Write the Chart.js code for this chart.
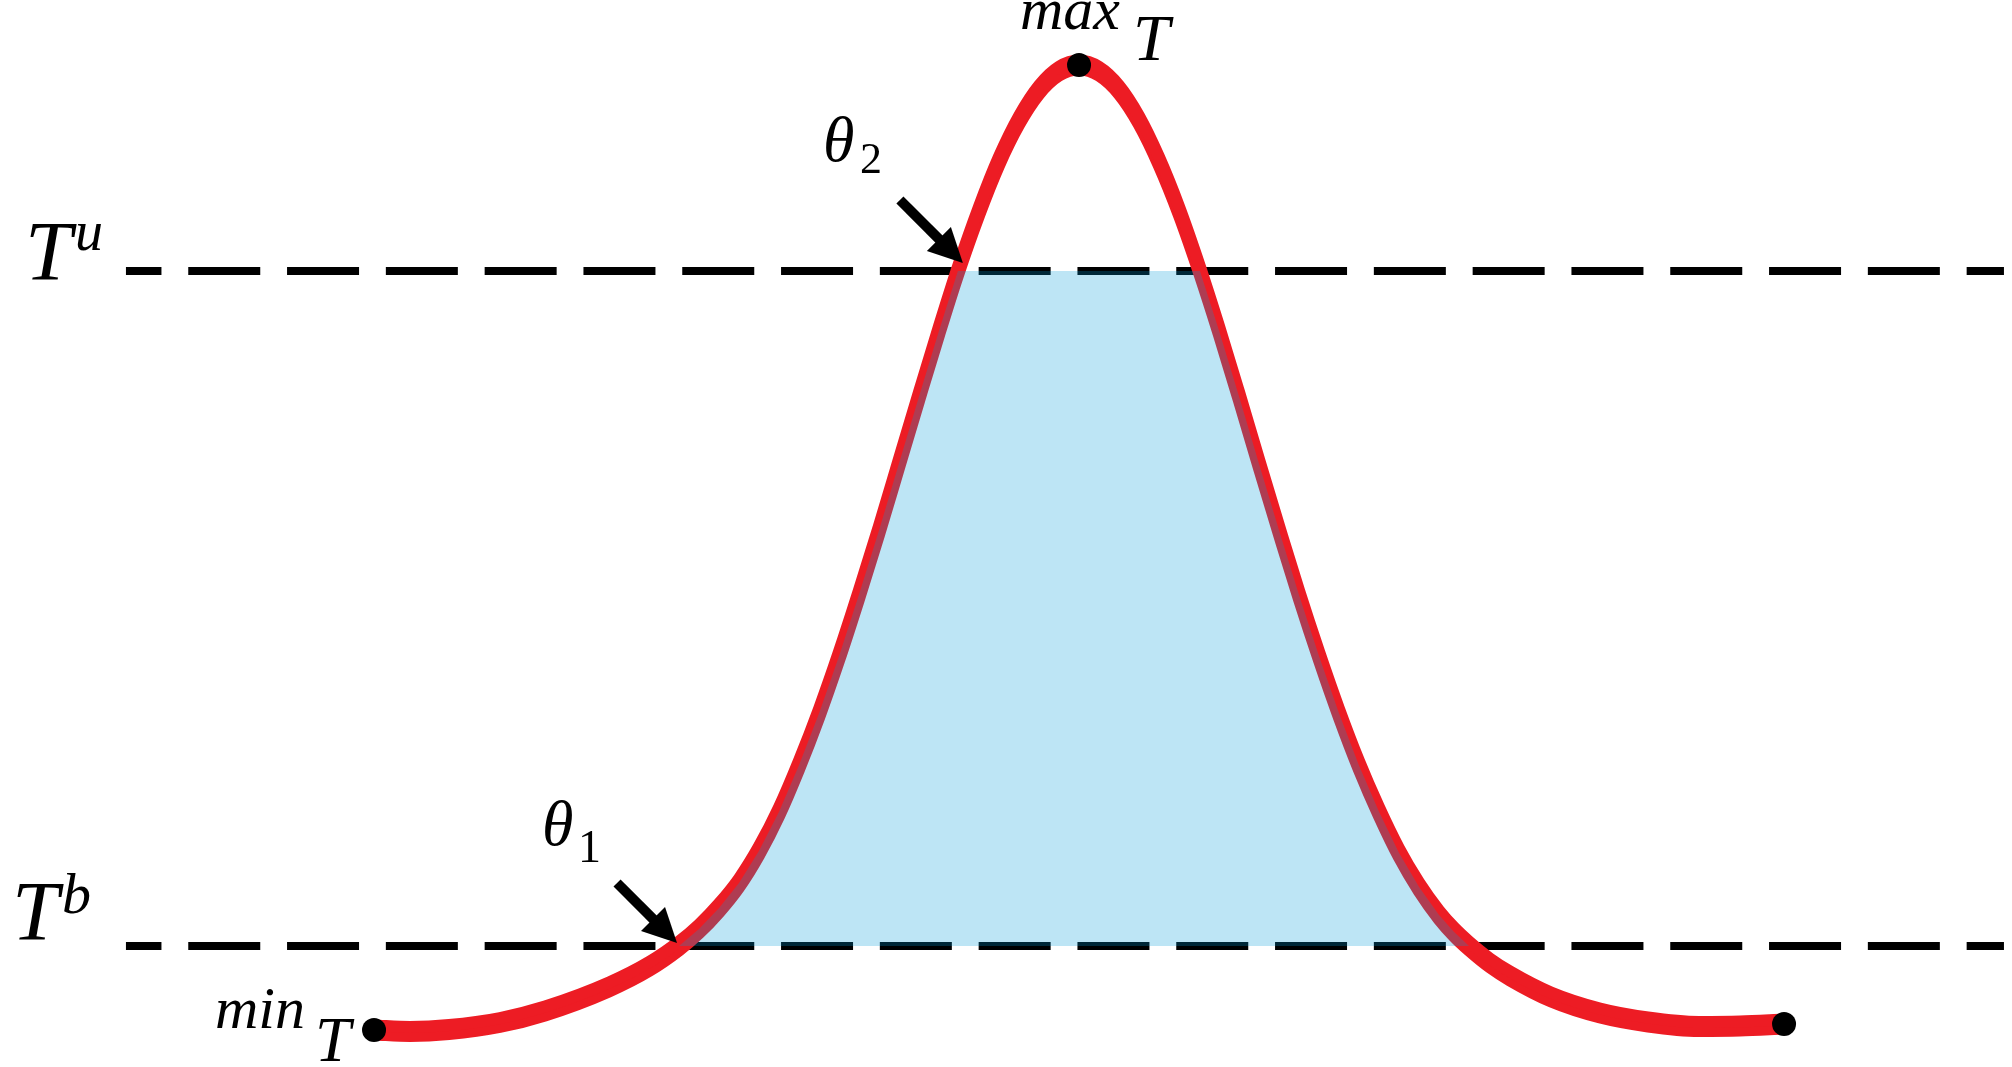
<!DOCTYPE html>
<html>
<head>
<meta charset="utf-8">
<title>Temperature window</title>
<script src="https://cdn.jsdelivr.net/npm/chart.js@4.4.1/dist/chart.umd.min.js"></script>
<style>
  html, body { margin: 0; padding: 0; background: #fff; }
  #wrap { width: 2012px; height: 1067px; }
</style>
</head>
<body>
<div id="wrap"><canvas id="tempChart" width="2012" height="1067"></canvas></div>
<script>
// curve (x: 0-100 across, y: 0-100 up)
const curveX = [18.59, 20.38, 22.32, 24.85, 27.09, 30.27, 32.31, 33.75, 34.74, 35.74, 36.73, 37.72,
  38.72, 39.71, 40.71, 41.70, 42.69, 43.69, 44.68, 45.68, 46.67, 47.61, 48.66, 49.65, 50.65, 51.64,
  52.63, 53.63, 54.62, 55.62, 56.61, 57.60, 58.60, 59.64, 60.59, 61.58, 62.57, 63.57, 64.56, 65.56,
  66.55, 67.54, 68.54, 69.53, 70.53, 71.52, 72.27, 73.01, 74.05, 75.05, 77.09, 79.52, 81.91, 84.44,
  86.48, 88.67];
const curveY = [3.47, 3.33, 3.51, 4.17, 5.25, 7.50, 9.47, 11.34, 12.93, 14.90, 17.24, 20.24,
  23.92, 28.28, 33.16, 38.50, 44.25, 50.31, 56.56, 62.86, 69.01, 74.60, 80.22, 84.89, 88.72, 91.57,
  93.32, 93.91, 93.32, 91.57, 88.72, 84.89, 80.22, 74.60, 69.01, 62.86, 56.56, 50.31, 44.25, 38.50,
  33.16, 28.28, 23.92, 20.08, 16.87, 14.25, 12.65, 11.34, 9.75, 8.53, 6.56, 5.06, 4.22, 3.80,
  3.84, 4.03];

// threshold levels
const T_B = 11.34;
const T_U = 74.60;
const lineX = [6.26, 99.6];

const curve = curveX.map((x, i) => ({ x, y: curveY[i] }));

// shaded band: part of the curve above T_B, cut at T_U
const band = curve.filter(p => p.y >= T_B).map(p => ({ x: p.x, y: Math.min(p.y, T_U) }));

const peakIdx = curveY.indexOf(Math.max(...curveY));
const markers = [curve[0], curve[peakIdx], curve[curve.length - 1]];

// crossings used for the theta arrows
const crossU = curve.find(p => p.y === T_U);
const crossB = curve.find(p => p.y === T_B);

// the original pen is taller than wide: stroke the curve twice, a hair apart
const PEN = 0.42;
const curveHi = curve.map(p => ({ x: p.x, y: p.y + PEN }));
const curveLo = curve.map(p => ({ x: p.x, y: p.y - PEN }));

const serif = '"Liberation Serif", "DejaVu Serif", serif';

const labels = [
  { at: { x: lineX[0], y: T_U }, parts: [
    { t: "T", dx: -101, dy: 9, font: "italic 84px " + serif },
    { t: "u", dx: -51, dy: -21, font: "italic 56px " + serif }] },
  { at: { x: lineX[0], y: T_B }, parts: [
    { t: "T", dx: -114, dy: -6, font: "italic 84px " + serif },
    { t: "b", dx: -64, dy: -33, font: "italic 58px " + serif }] },
  { at: crossU, parts: [
    { t: "θ", dx: -135, dy: -110, font: "italic 64px " + serif },
    { t: "2", dx: -98, dy: -98, font: "44px " + serif }] },
  { at: crossB, parts: [
    { t: "θ", dx: -137, dy: -101, font: "italic 64px " + serif },
    { t: "1", dx: -101, dy: -84, font: "46px " + serif }] },
  { at: markers[1], parts: [
    { t: "max", dx: -59, dy: -36, font: "italic 60px " + serif },
    { t: "T", dx: 54, dy: -5, font: "italic 66px " + serif }] },
  { at: markers[0], parts: [
    { t: "min", dx: -159, dy: -2, font: "italic 60px " + serif },
    { t: "T", dx: -59, dy: 31, font: "italic 64px " + serif }] }
];

const arrows = [
  { at: crossU, tip: [5, -8], tail: [-58, -71] },
  { at: crossB, tip: [-2, -3], tail: [-62, -63] }
];

const annotate = {
  id: "annotate",
  afterDatasetsDraw(chart) {
    const { ctx, scales: { x, y } } = chart;
    ctx.save();
    ctx.fillStyle = "#000";
    ctx.strokeStyle = "#000";

    arrows.forEach(a => {
      const px = x.getPixelForValue(a.at.x), py = y.getPixelForValue(a.at.y);
      const tx = px + a.tip[0], ty = py + a.tip[1];
      const sx = px + a.tail[0], sy = py + a.tail[1];
      const ang = Math.atan2(ty - sy, tx - sx);
      const headLen = 34, headW = 17;
      const bx = tx - headLen * Math.cos(ang), by = ty - headLen * Math.sin(ang);
      ctx.lineWidth = 10;
      ctx.lineCap = "butt";
      ctx.beginPath();
      ctx.moveTo(sx, sy);
      ctx.lineTo(bx + 2 * Math.cos(ang), by + 2 * Math.sin(ang));
      ctx.stroke();
      ctx.beginPath();
      ctx.moveTo(tx, ty);
      ctx.lineTo(bx + headW * Math.sin(ang), by - headW * Math.cos(ang));
      ctx.lineTo(bx - headW * Math.sin(ang), by + headW * Math.cos(ang));
      ctx.closePath();
      ctx.fill();
    });

    ctx.textAlign = "left";
    ctx.textBaseline = "alphabetic";
    labels.forEach(l => {
      const px = x.getPixelForValue(l.at.x), py = y.getPixelForValue(l.at.y);
      l.parts.forEach(p => {
        ctx.font = p.font;
        ctx.fillText(p.t, px + p.dx, py + p.dy);
      });
    });
    ctx.restore();
  }
};

const redLine = (data) => ({
  data,
  borderColor: "#ED1C24",
  borderWidth: 12,
  borderCapStyle: "round",
  borderJoinStyle: "round",
  pointRadius: 0,
  cubicInterpolationMode: "monotone",
  fill: false,
  order: 2
});

const dashed = (level) => ({
  data: lineX.map(x => ({ x, y: level })),
  borderColor: "#000",
  borderWidth: 8,
  borderDash: [72, 26.8],
  borderDashOffset: 36.5,
  borderCapStyle: "butt",
  pointRadius: 0,
  fill: false,
  order: 3
});

new Chart(document.getElementById("tempChart").getContext("2d"), {
  type: "line",
  data: {
    datasets: [
      {
        data: band,
        borderWidth: 0,
        pointRadius: 0,
        tension: 0,
        fill: { value: T_B },
        backgroundColor: "rgba(1,155,217,0.26)",
        order: 1
      },
      redLine(curveHi),
      redLine(curveLo),
      dashed(T_U),
      dashed(T_B),
      {
        data: markers,
        showLine: false,
        pointRadius: 12,
        pointBackgroundColor: "#000",
        pointBorderWidth: 0,
        order: 0
      }
    ]
  },
  options: {
    responsive: false,
    devicePixelRatio: 1,
    animation: false,
    layout: { padding: 0, autoPadding: false },
    plugins: { legend: { display: false }, tooltip: { enabled: false } },
    scales: {
      x: { type: "linear", min: 0, max: 100, display: false },
      y: { type: "linear", min: 0, max: 100, display: false }
    }
  },
  plugins: [annotate]
});
</script>
</body>
</html>
